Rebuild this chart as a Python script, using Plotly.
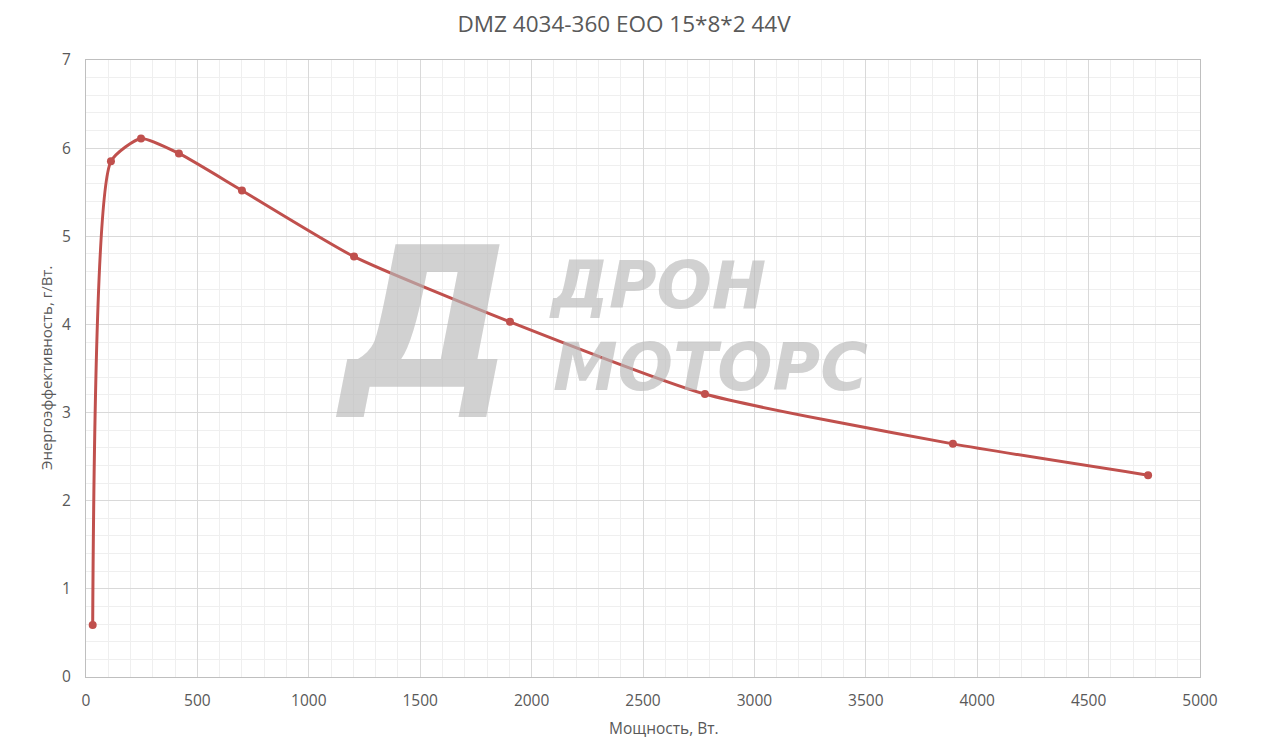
import plotly.graph_objects as go

power_w = [30, 112, 247, 417, 700, 1203, 1903, 2778, 3891, 4767]
efficiency = [0.59, 5.85, 6.11, 5.94, 5.52, 4.77, 4.03, 3.21, 2.645, 2.29]

title_text = "DMZ 4034-360 EOO 15*8*2 44V"
x_title = "Мощность, Вт."
y_title = "Энергоэффективность, г/Вт."

fig = go.Figure()
fig.add_trace(go.Scatter(
    x=power_w, y=efficiency, mode="lines+markers",
    line=dict(color="#C0504D", width=3, shape="spline", smoothing=0.55),
    marker=dict(color="#C0504D", size=8),
    showlegend=False, hoverinfo="x+y",
))

wm = "rgba(185,185,185,0.65)"
fig.add_annotation(x=0.304, y=0.58, xref="paper", yref="paper", text="<b><i>Д</i></b>",
                   showarrow=False, font=dict(family="DejaVu Sans", size=195, color=wm),
                   xanchor="center", yanchor="middle")
fig.add_annotation(x=0.513, y=0.635, xref="paper", yref="paper", text="<b><i>ДРОН</i></b>",
                   showarrow=False, font=dict(family="DejaVu Sans", size=65, color=wm),
                   xanchor="center", yanchor="middle")
fig.add_annotation(x=0.561, y=0.502, xref="paper", yref="paper", text="<b><i>МОТОРС</i></b>",
                   showarrow=False, font=dict(family="DejaVu Sans", size=65, color=wm),
                   xanchor="center", yanchor="middle")

# axis titles
fig.add_annotation(x=0.519, y=-0.083, xref="paper", yref="paper", text=x_title,
                   showarrow=False, font=dict(family="Open Sans", size=15.5, color="#595959"),
                   xanchor="center", yanchor="middle")
fig.add_annotation(x=-0.0359, y=0.5008, xref="paper", yref="paper", text=y_title,
                   showarrow=False, textangle=-90, font=dict(family="Open Sans", size=15, color="#595959"),
                   xanchor="center", yanchor="middle")

axis_common = dict(
    showline=True, linecolor="#bfbfbf", linewidth=1, mirror=True,
    gridcolor="#d9d9d9", gridwidth=1, zeroline=False,
    tickfont=dict(family="Open Sans", size=15.5, color="#595959"),
    ticks="", automargin=False,
)
fig.update_xaxes(range=[0, 5000], dtick=500, tick0=0,
                 minor=dict(dtick=100, showgrid=True, gridcolor="#efefef", gridwidth=1),
                 ticklabelstandoff=9,
                 **axis_common)
fig.update_yaxes(range=[0, 7], dtick=1, tick0=0,
                 minor=dict(dtick=0.2, showgrid=True, gridcolor="#efefef", gridwidth=1),
                 ticklabelstandoff=11,
                 **axis_common)

fig.update_layout(
    width=1265, height=748,
    margin=dict(l=78, r=73, t=52, b=79, autoexpand=False),
    paper_bgcolor="white", plot_bgcolor="white",
    title=dict(text=title_text, x=0.487, xanchor="center", y=0.978, yanchor="middle",
               font=dict(family="Open Sans", size=22.5, color="#595959"), automargin=False),
)

fig.write_html("out.html")
